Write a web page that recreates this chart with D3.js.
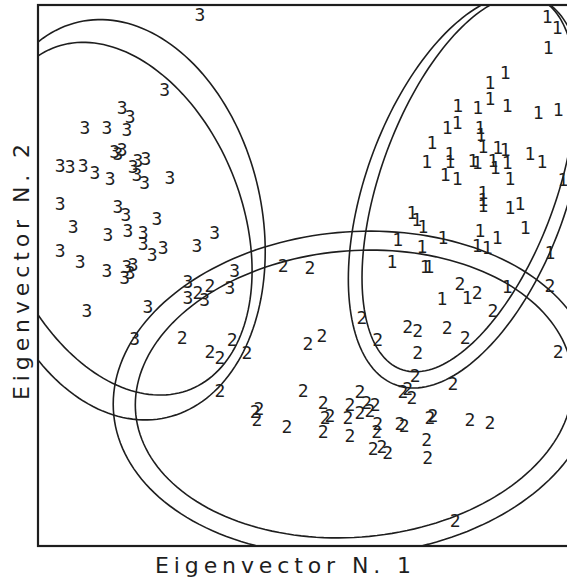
<!DOCTYPE html>
<html><head><meta charset="utf-8">
<script src="https://cdn.jsdelivr.net/npm/d3@7"></script>
<style>body{margin:0;background:#fff}svg{display:block}</style>
</head><body>
<svg id="c" width="567" height="582"></svg>
<script>
// ---- data (arbitrary eigenvector units, 0..100) ----
const g1x=[96.8,98.7,97.0,88.8,85.9,85.9,79.8,83.6,89.2,95.1,98.9,77.8,79.7,84.0,84.2,74.9,84.6,87.4,88.8,93.5,95.8,73.9,78.3,78.3,82.7,83.5,86.5,86.9,89.2,89.7,77.4,79.7,99.8,84.6,84.6,84.6,89.7,91.6,92.6,71.1,72.0,73.2,68.4,73.0,77.0,84.0,83.5,85.4,87.3,67.3,73.6,74.3,76.8,81.6,89.2,97.3];
const g1y=[97.8,95.9,92.2,87.6,85.6,82.8,81.5,81.1,81.5,80.2,80.6,77.3,78.2,77.3,76.0,74.5,73.8,73.6,73.2,72.6,71.0,71.0,72.6,71.0,71.3,70.8,71.3,69.9,70.8,68.0,68.6,68.0,67.7,65.4,64.0,63.0,62.5,63.4,58.8,61.6,60.3,59.0,56.6,55.3,57.1,58.4,55.6,55.1,57.1,52.5,51.6,51.6,45.8,46.0,47.9,54.3];
const g2x=[46.6,51.7,32.7,30.4,27.4,32.7,34.6,36.9,39.7,34.6,41.3,42.0,41.6,47.3,50.4,54.2,54.6,54.2,55.5,59.3,58.9,59.3,61.2,62.5,63.1,61.2,64.1,64.6,64.4,63.7,65.4,66.5,70.3,71.1,69.4,68.8,69.6,74.5,75.1,73.9,74.1,78.9,82.1,85.9,79.3,51.3,54.0,61.6,64.6,70.3,72.2,72.2,71.7,77.8,81.2,80.2,83.5,86.5,97.3,98.9];
const g2y=[51.9,51.4,48.1,46.8,38.6,35.9,34.8,38.1,35.7,28.8,24.8,25.5,23.3,22.0,28.8,26.6,23.7,21.1,24.2,26.1,23.8,20.5,28.5,26.6,25.1,24.6,26.1,22.7,21.1,18.1,18.3,17.2,29.2,27.5,28.5,22.7,22.2,23.8,24.2,19.6,16.3,30.1,23.3,22.9,4.8,37.5,39.0,42.3,38.1,40.5,39.9,35.7,31.6,40.3,38.6,48.6,46.8,43.6,48.2,35.9];
const g3x=[30.8,24.1,16.0,17.5,8.9,13.1,16.9,14.6,16.0,15.2,19.0,20.5,18.1,4.2,6.1,8.6,10.8,13.7,18.8,20.3,25.1,4.2,15.2,16.7,22.6,6.7,13.3,17.1,20.0,20.0,21.7,23.8,4.2,8.0,13.1,16.9,18.1,16.5,17.5,30.2,33.6,37.4,36.5,28.5,28.5,31.7,9.3,20.9,18.4];
const g3y=[98.2,84.3,81.0,79.3,77.3,77.3,76.9,73.0,73.2,72.5,71.3,71.7,70.2,70.4,70.1,70.4,69.1,68.0,68.6,67.1,68.2,63.4,62.7,61.2,60.6,59.0,57.5,58.4,57.9,56.0,53.8,55.1,54.7,52.5,51.0,51.6,52.1,49.7,50.6,55.6,57.9,51.0,47.7,48.8,46.0,45.5,43.6,44.2,38.4];
// ellipses: centre, spread along x, spread along y, correlation
const ellGroup=["1","1","2","2","3","3"];
const ellCx=[81.4,81.9,60.1,60.1,16.1,15.9];
const ellCy=[65.6,67.0,28.2,28.1,60.3,60.5];
const ellSx=[22.4,20.3,45.8,41.6,27.1,24.8];
const ellSy=[36.4,34.8,30.0,26.6,37.0,32.6];
const ellR=[0.447,0.501,0.066,0.076,-0.158,-0.295];
const xLabel="Eigenvector N. 1", yLabel="Eigenvector N. 2";

const svg=d3.select("#c");
const L=38,T=5,R=564,B=546;
const x=d3.scaleLinear().domain([0,100]).range([L,R]);
const y=d3.scaleLinear().domain([0,100]).range([B,T]);
const ink="#1e1e1e";

svg.append("rect").attr("width",567).attr("height",582).attr("fill","#fff");
svg.append("clipPath").attr("id","clip").append("rect").attr("x",L).attr("y",T).attr("width",600).attr("height",B-T);

const ells=ellCx.map((c,i)=>{
  const pts=d3.range(0,361,2).map(d=>{const t=d*Math.PI/180;
    return [ellCx[i]+ellSx[i]*Math.cos(t), ellCy[i]+ellSy[i]*(ellR[i]*Math.cos(t)+Math.sqrt(1-ellR[i]*ellR[i])*Math.sin(t))];});
  return pts;});
const line=d3.line().x(d=>x(d[0])).y(d=>y(d[1])).curve(d3.curveLinearClosed);
svg.append("g").attr("clip-path","url(#clip)").selectAll("path").data(ells).join("path")
  .attr("d",line).attr("fill","none").attr("stroke",ink).attr("stroke-width",1.6);

// frame
svg.append("rect").attr("x",L).attr("y",T).attr("width",560).attr("height",B-T)
  .attr("fill","none").attr("stroke",ink).attr("stroke-width",2.2);

const groups=[["1",g1x,g1y],["2",g2x,g2y],["3",g3x,g3y]];
groups.forEach(([lab,gx,gy])=>{
  svg.append("g").selectAll("text").data(gx).join("text")
    .attr("x",(d)=>x(d)).attr("y",(d,i)=>y(gy[i]))
    .attr("text-anchor","middle").attr("dominant-baseline","central")
    .attr("font-family","DejaVu Sans Mono").attr("font-size",18)
    .attr("fill",ink).text(lab);
});

svg.append("text").attr("x",283).attr("y",573).attr("text-anchor","middle")
  .attr("font-family","DejaVu Sans").attr("font-size",22).attr("fill",ink)
  .attr("textLength",256).attr("lengthAdjust","spacing").text(xLabel);
svg.append("text").attr("transform","translate(29,272) rotate(-90)").attr("text-anchor","middle")
  .attr("font-family","DejaVu Sans").attr("font-size",22).attr("fill",ink)
  .attr("textLength",256).attr("lengthAdjust","spacing").text(yLabel);
</script>
</body></html>
